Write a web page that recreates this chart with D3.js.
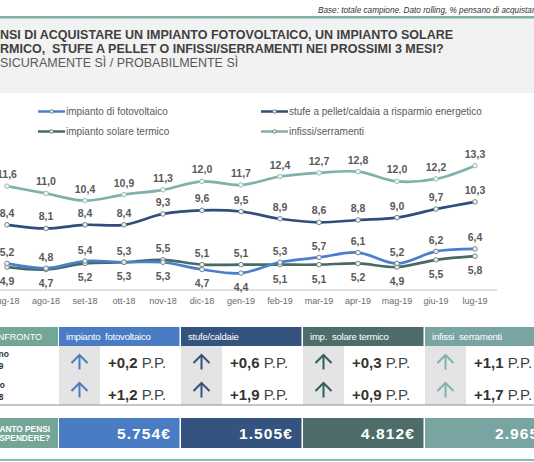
<!DOCTYPE html>
<html lang="it">
<head>
<meta charset="UTF-8">
<script src="https://cdn.jsdelivr.net/npm/d3@7"></script>
<style>
  body { margin: 0; background: #fff; }
  svg { display: block; font-family: "Liberation Sans", Arial, sans-serif; }
</style>
</head>
<body>
<div id="container"></div>
<script>
// months on the x axis
const months = ["lug-18", "ago-18", "set-18", "ott-18", "nov-18", "dic-18", "gen-19",
                "feb-19", "mar-19", "apr-19", "mag-19", "giu-19", "lug-19"]

// % pensano di acquistare
const fotovoltaico = [5.2, 4.8, 5.4, 5.3, 5.3, 4.7, 4.4, 5.3, 5.7, 6.1, 5.2, 6.2, 6.4]
const stufe        = [8.4, 8.1, 8.4, 8.4, 9.3, 9.6, 9.5, 8.9, 8.6, 8.8, 9.0, 9.7, 10.3]
const solare       = [4.9, 4.7, 5.2, 5.3, 5.5, 5.1, 5.1, 5.1, 5.1, 5.2, 4.9, 5.5, 5.8]
const infissi      = [11.6, 11.0, 10.4, 10.9, 11.3, 12.0, 11.7, 12.4, 12.7, 12.8, 12.0, 12.2, 13.3]

const legendNames = ["impianto di fotovoltaico", "stufe a pellet/caldaia a risparmio energetico",
                     "impianto solare termico", "infissi/serramenti"]

// table below the chart
const tableHeaders = ["impianto  fotovoltaico", "stufe/caldaie", "imp.  solare termico", "infissi  serramenti"]
const vsMesePrec = ["+0,2", "+0,6", "+0,3", "+1,1"]
const vsAnnoPrec = ["+1,2", "+1,9", "+0,9", "+1,7"]
const spesa = ["5.754€", "1.505€", "4.812€", "2.965€"]

const colors = {
    foto: "#4a7fcb",
    stufe: "#2f4e7d",
    solare: "#476a66",
    infissi: "#80b1ac"
}
const headColors = ["#4a7cc4", "#35537f", "#4e6d6a", "#78a5a2"]
const arrowColors = ["#4a7cc4", "#35537f", "#2f5f5a", "#80b1ac"]
const teal = "#74a698"

const W = 534, H = 462

const svg = d3.select("#container").append("svg")
    .attr("width", W)
    .attr("height", H)
    .attr("viewBox", `0 0 ${W} ${H}`)

/*------------------------- header -------------------------*/
svg.append("text")
    .attr("x", 318).attr("y", 12.5)
    .attr("font-size", 8.2).attr("font-style", "italic").attr("fill", "#333")
    .text("Base: totale campione.  Dato rolling, % pensano di acquistare")

svg.append("rect").attr("x", 0).attr("y", 18).attr("width", W).attr("height", 75).attr("fill", "#f2f2f2")
svg.append("rect").attr("x", 0).attr("y", 16).attr("width", W).attr("height", 2.5).attr("fill", "#7fb0aa")

const titleLines = [
    { t: "NSI DI ACQUISTARE UN IMPIANTO FOTOVOLTAICO, UN IMPIANTO SOLARE", w: "bold", y: 39, c: "#404040" },
    { t: "RMICO,  STUFE A PELLET O INFISSI/SERRAMENTI NEI PROSSIMI 3 MESI?", w: "bold", y: 52.5, c: "#404040" },
    { t: "SICURAMENTE SÌ / PROBABILMENTE SÌ", w: "normal", y: 66.5, c: "#595959" }
]
svg.selectAll(".title").data(titleLines).enter().append("text")
    .attr("class", "title")
    .attr("x", 0).attr("y", d => d.y)
    .attr("font-size", 12.5).attr("font-weight", d => d.w).attr("fill", d => d.c)
    .attr("xml:space", "preserve")
    .text(d => d.t)

/*------------------------- chart -------------------------*/
const x = d3.scalePoint().domain(months).range([7, 475])
const y = d3.scaleLinear().domain([3, 14]).range([290, 157.2])

const series = [
    { key: "foto", name: legendNames[0], values: fotovoltaico, color: colors.foto },
    { key: "stufe", name: legendNames[1], values: stufe, color: colors.stufe },
    { key: "solare", name: legendNames[2], values: solare, color: colors.solare },
    { key: "infissi", name: legendNames[3], values: infissi, color: colors.infissi }
]

// legend
const legendPos = [[38, 111.5], [261, 111.5], [38, 131.5], [261, 131.5]]
series.forEach((s, i) => {
    const [lx, ly] = legendPos[i]
    const g = svg.append("g").attr("transform", `translate(${lx},${ly})`)
    g.append("line").attr("x1", 0).attr("x2", 27).attr("y1", 0).attr("y2", 0)
        .attr("stroke", s.color).attr("stroke-width", 2.5)
    g.append("circle").attr("cx", 13.5).attr("cy", 0).attr("r", 1.8)
        .attr("fill", "#eef3f3").attr("stroke", "#666").attr("stroke-width", 0.8)
    g.append("text").attr("x", 28).attr("y", 3.5)
        .attr("font-size", 10).attr("fill", "#595959")
        .text(s.name)
})

// x axis
svg.append("line").attr("x1", 0).attr("x2", 497).attr("y1", 290).attr("y2", 290)
    .attr("stroke", "#bfbfbf").attr("stroke-width", 1)
svg.selectAll(".tick-label").data(months).enter().append("text")
    .attr("class", "tick-label")
    .attr("x", d => x(d)).attr("y", 303.5)
    .attr("text-anchor", "middle").attr("font-size", 9).attr("fill", "#6b6b6b")
    .text(d => d)

const line = d3.line()
    .x((d, i) => x(months[i]))
    .y(d => y(d))
    .curve(d3.curveCatmullRom.alpha(0.5))

const order = [series[3], series[1], series[2], series[0]]
order.forEach(s => {
    svg.append("path")
        .attr("d", line(s.values))
        .attr("fill", "none")
        .attr("stroke", s.color)
        .attr("stroke-width", 2.7)
})
order.forEach(s => {
    svg.selectAll(".pt-" + s.key).data(s.values).enter().append("circle")
        .attr("class", "pt-" + s.key)
        .attr("cx", (d, i) => x(months[i]))
        .attr("cy", d => y(d))
        .attr("r", 2.3)
        .attr("fill", "#eef4f4")
        .attr("stroke", s.key === "infissi" ? "#8fbab5" : "#6a7a7a")
        .attr("stroke-width", 0.9)
})

// data labels
const fmt = v => d3.format(".1f")(v).replace(".", ",")
const labels = []
;[series[3], series[1]].forEach(s => {
    s.values.forEach((v, i) => labels.push({ x: x(months[i]), y: y(v) - 8, v }))
})
fotovoltaico.forEach((v, i) => {
    const w = solare[i]
    const topV = v >= w ? v : w
    const botV = v >= w ? w : v
    labels.push({ x: x(months[i]), y: y(topV) - 7.5, v: topV })
    labels.push({ x: x(months[i]), y: Math.min(y(botV) + 18, 291), v: botV })
})
svg.selectAll(".dlabel").data(labels).enter().append("text")
    .attr("class", "dlabel")
    .attr("x", d => d.x).attr("y", d => d.y)
    .attr("text-anchor", "middle").attr("font-size", 10.5).attr("font-weight", "bold")
    .attr("fill", "#595959")
    .text(d => fmt(d.v))

/*------------------------- table -------------------------*/
const col = d3.scaleBand().domain(tableHeaders).range([59, 547]).paddingInner(0)
const bw = col.bandwidth()
const headY = 327, headH = 19
const bodyY = 346, bodyH = 59
const spendY = 418, spendH = 30

// header row
svg.append("rect").attr("x", 0).attr("y", headY).attr("width", 58).attr("height", headH).attr("fill", teal)
svg.append("text").attr("x", 42).attr("y", headY + 13).attr("text-anchor", "end")
    .attr("font-size", 9).attr("fill", "#fff").text("CONFRONTO")

tableHeaders.forEach((h, i) => {
    const cx = col(h)
    // last column runs past the right edge of the page
    const cw = i === 3 ? bw + 12 : bw
    svg.append("rect").attr("x", cx).attr("y", headY).attr("width", cw - 1.5).attr("height", headH)
        .attr("fill", headColors[i])
    svg.append("text").attr("x", cx + 7).attr("y", headY + 12.5)
        .attr("font-size", 9.6).attr("fill", "#fff").attr("letter-spacing", -0.25)
        .attr("xml:space", "preserve")
        .text(h)

    // arrow cells
    svg.append("rect").attr("x", cx).attr("y", bodyY).attr("width", 41).attr("height", bodyH)
        .attr("fill", "#e4e4e4")
    ;[362, 390].forEach(ay => {
        const ax = cx + 20.5
        const g = svg.append("g").attr("transform", `translate(${ax},${ay})`)
            .attr("fill", "none").attr("stroke", arrowColors[i]).attr("stroke-width", 2)
            .attr("stroke-linecap", "butt")
        g.append("line").attr("x1", 0).attr("x2", 0).attr("y1", -6.5).attr("y2", 7.5)
        g.append("polyline").attr("points", "-8,1 0,-7 8,1")
    })

    ;[[vsMesePrec[i], 367.5], [vsAnnoPrec[i], 400]].forEach(([v, ty]) => {
        const t = svg.append("text").attr("x", cx + 49).attr("y", ty)
            .attr("font-size", 15).attr("fill", "#333")
        t.append("tspan").attr("font-weight", "bold").text(v)
        t.append("tspan").attr("fill", "#444").text(" P.P.")
    })

    // spending row
    svg.append("rect").attr("x", cx).attr("y", spendY).attr("width", cw - 1.5).attr("height", spendH)
        .attr("fill", headColors[i])
    svg.append("text").attr("x", cx + cw - 10).attr("y", spendY + 20.5)
        .attr("text-anchor", "end").attr("font-size", 15.5).attr("font-weight", "bold")
        .attr("letter-spacing", 1.1)
        .attr("fill", "#fff").text(spesa[i])
})

// row labels (left column, cut at the edge)
const rowLabels = [
    { t: "giugno", x: 9, y: 357 }, { t: "2019", x: 3.5, y: 369 },
    { t: "luglio", x: 5, y: 388 }, { t: "2018", x: 3.5, y: 400 }
]
svg.selectAll(".rowlab").data(rowLabels).enter().append("text")
    .attr("class", "rowlab")
    .attr("x", d => d.x).attr("y", d => d.y).attr("text-anchor", "end")
    .attr("font-size", 8.5).attr("font-weight", "bold").attr("fill", "#333")
    .text(d => d.t)

svg.append("line").attr("x1", 0).attr("x2", W).attr("y1", bodyY + bodyH).attr("y2", bodyY + bodyH)
    .attr("stroke", "#8c8c8c").attr("stroke-width", 1)

svg.append("rect").attr("x", 0).attr("y", spendY).attr("width", 58).attr("height", spendH).attr("fill", teal)
svg.append("text").attr("x", 50).attr("y", spendY + 13.5).attr("text-anchor", "end")
    .attr("font-size", 8.3).attr("font-weight", "bold").attr("fill", "#fff").text("QUANTO PENSI")
svg.append("text").attr("x", 50).attr("y", spendY + 22.5).attr("text-anchor", "end")
    .attr("font-size", 8.3).attr("font-weight", "bold").attr("fill", "#fff").text("DI SPENDERE?")

svg.append("rect").attr("x", 0).attr("y", 459).attr("width", W).attr("height", 2).attr("fill", "#8ab8b2")
</script>
</body>
</html>
